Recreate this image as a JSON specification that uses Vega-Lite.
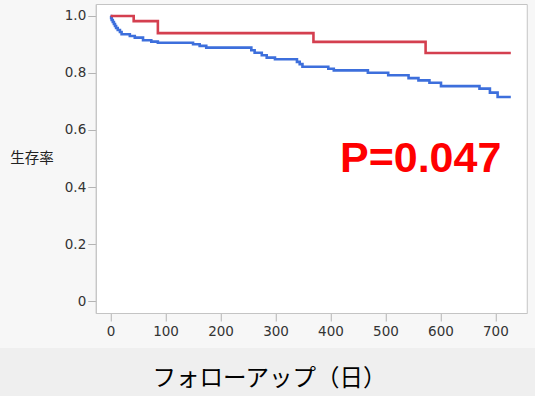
{
  "$schema": "https://vega.github.io/schema/vega-lite/v6.json",
  "background": "#f7f7f7",
  "padding": {"left": 0, "top": 3, "right": 0, "bottom": 0},
  "spacing": 10,
  "center": true,
  "datasets": {
    "curves": [
      {"group": "A", "day": 0, "surv": 1.0},
      {"group": "A", "day": 1, "surv": 0.993},
      {"group": "A", "day": 2, "surv": 0.986},
      {"group": "A", "day": 4, "surv": 0.979},
      {"group": "A", "day": 6, "surv": 0.972},
      {"group": "A", "day": 8, "surv": 0.965},
      {"group": "A", "day": 10, "surv": 0.958},
      {"group": "A", "day": 13, "surv": 0.951},
      {"group": "A", "day": 17, "surv": 0.944},
      {"group": "A", "day": 20, "surv": 0.936},
      {"group": "A", "day": 35, "surv": 0.930},
      {"group": "A", "day": 44, "surv": 0.924},
      {"group": "A", "day": 59, "surv": 0.915},
      {"group": "A", "day": 74, "surv": 0.910},
      {"group": "A", "day": 86, "surv": 0.906},
      {"group": "A", "day": 150, "surv": 0.901},
      {"group": "A", "day": 162, "surv": 0.895},
      {"group": "A", "day": 174, "surv": 0.889},
      {"group": "A", "day": 256, "surv": 0.880},
      {"group": "A", "day": 262, "surv": 0.871},
      {"group": "A", "day": 275, "surv": 0.862},
      {"group": "A", "day": 284, "surv": 0.854},
      {"group": "A", "day": 299, "surv": 0.848},
      {"group": "A", "day": 339, "surv": 0.839},
      {"group": "A", "day": 344, "surv": 0.831},
      {"group": "A", "day": 349, "surv": 0.822},
      {"group": "A", "day": 396, "surv": 0.815},
      {"group": "A", "day": 406, "surv": 0.809},
      {"group": "A", "day": 468, "surv": 0.801},
      {"group": "A", "day": 505, "surv": 0.792},
      {"group": "A", "day": 542, "surv": 0.782},
      {"group": "A", "day": 560, "surv": 0.774},
      {"group": "A", "day": 580, "surv": 0.766},
      {"group": "A", "day": 601, "surv": 0.754},
      {"group": "A", "day": 671, "surv": 0.745},
      {"group": "A", "day": 690, "surv": 0.731},
      {"group": "A", "day": 704, "surv": 0.716},
      {"group": "A", "day": 728, "surv": 0.716},
      {"group": "B", "day": 0, "surv": 1.0},
      {"group": "B", "day": 42, "surv": 0.982},
      {"group": "B", "day": 86, "surv": 0.940},
      {"group": "B", "day": 369, "surv": 0.909},
      {"group": "B", "day": 573, "surv": 0.870},
      {"group": "B", "day": 728, "surv": 0.870}
    ],
    "pval": [{"day": 564, "surv": 0.4537, "label": "P=0.047"}],
    "xtitle": [{"label": "フォローアップ（日）"}]
  },
  "vconcat": [
    {
      "width": 431,
      "height": 309,
      "view": {"fill": "#ffffff", "stroke": "#c4c4c4", "strokeWidth": 1},
      "layer": [
        {
          "data": {"name": "curves"},
          "mark": {"type": "line", "interpolate": "step-after", "strokeWidth": 2.6, "clip": true},
          "encoding": {
            "x": {
              "field": "day", "type": "quantitative",
              "scale": {"domain": [-27, 757], "nice": false, "zero": false},
              "axis": {
                "title": null, "values": [0, 100, 200, 300, 400, 500, 600, 700],
                "grid": false, "tickSize": 8, "tickColor": "#b4b4b4", "domainColor": "#c4c4c4",
                "labelFont": "DejaVu Sans", "labelFontSize": 13.5, "labelColor": "#333333",
                "labelPadding": 3, "labelFlush": false, "labelOverlap": false
              }
            },
            "y": {
              "field": "surv", "type": "quantitative",
              "scale": {"domain": [-0.042, 1.042], "nice": false, "zero": false},
              "axis": {
                "title": "生存率", "titleAngle": 0, "titleAlign": "right", "titleBaseline": "middle",
                "titleFont": "Noto Sans CJK JP", "titleFontSize": 14.5, "titleFontWeight": "normal",
                "titleColor": "#222222", "titlePadding": 11,
                "values": [0, 0.1, 0.2, 0.3, 0.4, 0.5, 0.6, 0.7, 0.8, 0.9, 1.0],
                "labelExpr": "datum.value == 0 ? '0' : (round(datum.value*10) % 2 == 0 ? format(datum.value, '.1f') : '')",
                "grid": false,
                "tickSize": {"condition": {"test": "round(datum.value*10) % 2 == 0", "value": 8}, "value": 5},
                "tickColor": "#b4b4b4", "domainColor": "#c4c4c4",
                "labelFont": "DejaVu Sans", "labelFontSize": 13.5, "labelColor": "#333333",
                "labelPadding": 2, "labelFlush": false, "labelOverlap": false
              }
            },
            "color": {
              "field": "group", "type": "nominal",
              "scale": {"domain": ["A", "B"], "range": ["#3d6fdc", "#d43f4f"]},
              "legend": null
            }
          }
        },
        {
          "data": {"name": "pval"},
          "mark": {
            "type": "text", "font": "Liberation Sans", "fontWeight": "bold", "fontSize": 43,
            "color": "#ff0000", "align": "center", "baseline": "alphabetic"
          },
          "encoding": {
            "x": {"field": "day", "type": "quantitative"},
            "y": {"field": "surv", "type": "quantitative"},
            "text": {"field": "label"}
          }
        }
      ]
    },
    {
      "width": 623,
      "height": 61,
      "view": {"fill": "#efefef", "stroke": null},
      "data": {"name": "xtitle"},
      "mark": {"type": "text", "font": "Noto Sans CJK JP", "fontSize": 23.5, "color": "#000000", "align": "center", "baseline": "middle", "dx": -42},
      "encoding": {"text": {"field": "label"}}
    }
  ]
}
